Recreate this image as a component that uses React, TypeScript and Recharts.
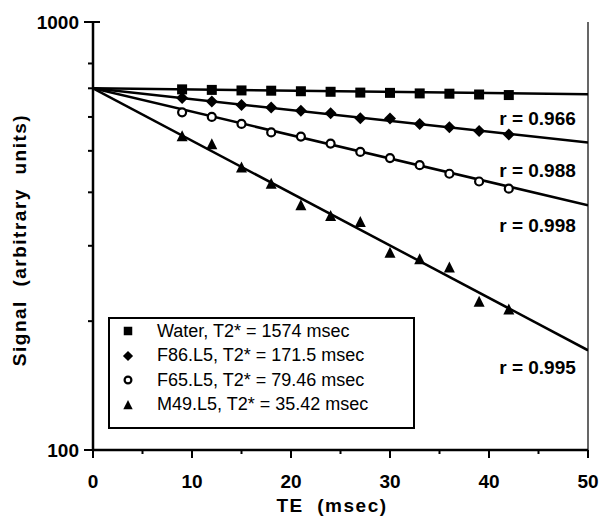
import { ComposedChart, Line, Scatter, XAxis, YAxis, ReferenceLine } from "recharts";

const teValues = [9, 12, 15, 18, 21, 24, 27, 30, 33, 36, 39, 42];
const waterSignal = [696, 694, 692, 691, 689, 687, 684, 683, 681, 680, 677, 675];
const f86Signal = [664, 652, 640, 631, 620, 612, 596, 595, 578, 568, 556, 546];
const f65Signal = [615, 600, 578, 552, 540, 520, 497, 481, 463, 442, 424, 408];
const m49Signal = [541, 518, 457, 419, 373, 352, 341, 289, 279, 267, 222, 213];

const fitTE = [0, 50];
const waterFit = [700, 678];
const f86Fit = [700, 523];
const f65Fit = [700, 373];
const m49Fit = [700, 171];

const rLabels = ["r = 0.966", "r = 0.988", "r = 0.998", "r = 0.995"];
const rLabelTE = [44.9, 44.9, 44.9, 44.9];
const rLabelSignal = [596, 450, 335, 156];

const legendNames = [
  "Water, T2* = 1574 msec",
  "F86.L5, T2* = 171.5 msec",
  "F65.L5, T2* = 79.46 msec",
  "M49.L5, T2* = 35.42 msec",
];

const xTicks = [0, 5, 10, 15, 20, 25, 30, 35, 40, 45, 50];
const yTicks = [100, 200, 300, 400, 500, 600, 700, 800, 900, 1000];

const FONT = "'Liberation Sans', Arial, Helvetica, sans-serif";

const toPoints = (xs: number[], ys: number[]) => xs.map((x, i) => ({ x, y: ys[i] }));

function Marker({ kind, cx, cy, s = 1 }: { kind: string; cx: number; cy: number; s?: number }) {
  if (kind === "square")
    return <rect x={cx - 5 * s} y={cy - 5 * s} width={10 * s} height={10 * s} fill="#000" />;
  if (kind === "diamond")
    return (
      <polygon
        points={`${cx},${cy - 6 * s} ${cx + 6 * s},${cy} ${cx},${cy + 6 * s} ${cx - 6 * s},${cy}`}
        fill="#000"
      />
    );
  if (kind === "circle")
    return <circle cx={cx} cy={cy} r={4 * s} fill="#fff" stroke="#000" strokeWidth={2.2} />;
  return (
    <polygon
      points={`${cx},${cy - 6 * s} ${cx + 5.5 * s},${cy + 5 * s} ${cx - 5.5 * s},${cy + 5 * s}`}
      fill="#000"
    />
  );
}

const series = [
  { kind: "square", signal: waterSignal, fit: waterFit },
  { kind: "diamond", signal: f86Signal, fit: f86Fit },
  { kind: "circle", signal: f65Signal, fit: f65Fit },
  { kind: "triangle", signal: m49Signal, fit: m49Fit },
];

const labelData = rLabels.map((label, i) => ({ x: rLabelTE[i], y: rLabelSignal[i], label }));

function YTick(props: any) {
  const { x, y, payload } = props;
  const major = payload.value === 100 || payload.value === 1000;
  return (
    <g>
      <line x1={major ? x - 9 : x - 5} x2={major ? x + 7 : x} y1={y} y2={y} stroke="#000" strokeWidth={2} />
      {major && (
        <text x={x - 14} y={y + 7} textAnchor="end" fontFamily={FONT} fontWeight="bold" fontSize={19} fill="#000">
          {payload.value}
        </text>
      )}
    </g>
  );
}

function XTick(props: any) {
  const { x, y, payload } = props;
  const major = payload.value % 10 === 0;
  return (
    <g>
      <line x1={x} x2={x} y1={y} y2={y + (major ? 8 : 4)} stroke="#000" strokeWidth={2} />
      {major && (
        <text x={x} y={y + 38} textAnchor="middle" fontFamily={FONT} fontWeight="bold" fontSize={19} fill="#000">
          {payload.value}
        </text>
      )}
    </g>
  );
}

export default function App() {
  return (
    <div style={{ position: "absolute", left: 0, top: 0, width: 600, height: 518, background: "#fff" }}>
      <ComposedChart width={600} height={518} margin={{ top: 22, right: 12, bottom: 8, left: 0 }}>
        <XAxis
          type="number"
          dataKey="x"
          domain={[0, 50]}
          ticks={xTicks}
          tick={<XTick />}
          tickLine={false}
          tickSize={0}
          tickMargin={0}
          height={60}
          axisLine={{ stroke: "#000", strokeWidth: 2.5 }}
          allowDataOverflow
          label={{
            content: () => (
              <text x={332} y={512} textAnchor="middle" fontFamily={FONT} fontWeight="bold" fontSize={19} letterSpacing={1.5} fill="#000">
                TE{"\u00a0\u00a0"}(msec)
              </text>
            ),
          }}
        />
        <YAxis
          type="number"
          dataKey="y"
          scale="log"
          domain={[100, 1000]}
          ticks={yTicks}
          tick={<YTick />}
          tickLine={false}
          tickSize={0}
          tickMargin={0}
          width={93}
          axisLine={{ stroke: "#000", strokeWidth: 2.5 }}
          allowDataOverflow
          label={{
            content: () => (
              <text
                x={26}
                y={240}
                transform="rotate(-90 26 240)"
                textAnchor="middle"
                fontFamily={FONT}
                fontWeight="bold"
                fontSize={19}
                letterSpacing={1.5}
                fill="#000"
              >
                Signal{"\u00a0\u00a0"}(arbitrary{"\u00a0\u00a0"}units)
              </text>
            ),
          }}
        />
        <ReferenceLine x={50} stroke="#000" strokeWidth={1.2} />
        {series.map((s, i) => (
          <Line
            key={"fit" + i}
            data={toPoints(fitTE, s.fit)}
            dataKey="y"
            type="linear"
            stroke="#000"
            strokeWidth={2.5}
            dot={false}
            activeDot={false}
            isAnimationActive={false}
          />
        ))}
        {series.map((s, i) => (
          <Scatter
            key={"pts" + i}
            data={toPoints(teValues, s.signal)}
            dataKey="y"
            isAnimationActive={false}
            shape={(p: any) => <Marker kind={s.kind} cx={p.cx} cy={p.cy} />}
          />
        ))}
        <Scatter
          data={labelData}
          dataKey="y"
          isAnimationActive={false}
          shape={(p: any) => (
            <text
              x={p.cx}
              y={p.cy}
              textAnchor="middle"
              dominantBaseline="central"
              fontFamily={FONT}
              fontWeight="bold"
              fontSize={19}
              fill="#000"
            >
              {p.payload.label}
            </text>
          )}
        />
      </ComposedChart>
      <div
        style={{
          position: "absolute",
          left: 108,
          top: 317,
          width: 307,
          height: 112,
          border: "2px solid #000",
          boxSizing: "border-box",
          background: "#fff",
          fontFamily: FONT,
          fontSize: 18,
          color: "#000",
          paddingTop: 0,
        }}
      >
        {legendNames.map((name, i) => (
          <div key={name} style={{ display: "flex", alignItems: "center", height: 24.5 }}>
            <svg width={42} height={20} style={{ flex: "none" }}>
              <Marker kind={series[i].kind} cx={18} cy={10} s={0.85} />
            </svg>
            <span style={{ marginLeft: 5, whiteSpace: "nowrap" }}>{name}</span>
          </div>
        ))}
      </div>
    </div>
  );
}
